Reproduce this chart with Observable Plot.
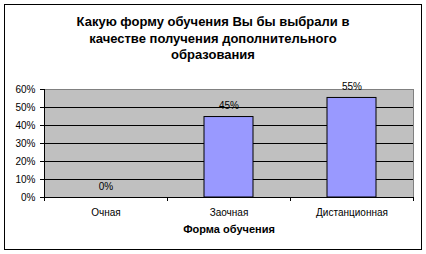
<!DOCTYPE html>
<html>
<head>
<meta charset="utf-8">
<script src="https://cdn.jsdelivr.net/npm/d3@7"></script>
<script src="https://cdn.jsdelivr.net/npm/@observablehq/plot@0.6"></script>
<style>
  body { margin: 0; background: #fff; font-family: "Liberation Sans", Arial, sans-serif; }
  #wrap { position: relative; width: 426px; height: 254px; overflow: hidden; }
  #border { position: absolute; left: 4px; top: 4px; width: 418px; height: 246px; box-sizing: border-box; border: 1px solid #000; }
  #title { position: absolute; left: 4px; top: 14px; width: 418px; text-align: center; font: bold 13px "Liberation Sans", Arial, sans-serif; line-height: 16.5px; color: #000; }
  #plot { position: absolute; left: 0; top: 0; }
</style>
</head>
<body>
<div id="wrap">
  <div id="border"></div>
  <div id="title">Какую форму обучения Вы бы выбрали в<br>качестве получения дополнительного<br>образования</div>
  <div id="plot"></div>
</div>
<script>
const categories = ["Очная", "Заочная", "Дистанционная"];
const values = [0, 0.447, 0.553];
const yTicks = [0, 0.1, 0.2, 0.3, 0.4, 0.5, 0.6];
const gridValues = [0.1, 0.2, 0.3, 0.4, 0.5];
const xTitle = "Форма обучения";

const data = categories.map((c, i) => ({category: c, value: values[i]}));

const W = 426, H = 254, mL = 44, mR = 13, mT = 89, mB = 57;
const step = (W - mL - mR) / categories.length;

const chart = Plot.plot({
  width: W,
  height: H,
  marginLeft: mL,
  marginRight: mR,
  marginTop: mT,
  marginBottom: mB,
  style: {fontFamily: "'Liberation Sans', Arial, sans-serif", fontSize: "10px", color: "#000", background: "transparent"},
  x: {domain: categories, paddingInner: 0.6, paddingOuter: 0.3, label: null},
  y: {domain: [0, 0.6], label: null},
  marks: [
    Plot.frame({fill: "#C0C0C0", stroke: null}),
    Plot.ruleY(gridValues, {stroke: "#000", strokeWidth: 1}),
    Plot.barY(data, {x: "category", y: "value", fill: "#9999FF", stroke: "#000", strokeWidth: 1}),
    Plot.frame({stroke: "#808080", strokeWidth: 1}),
    Plot.frame({anchor: "left", stroke: "#000"}),
    Plot.frame({anchor: "bottom", stroke: "#000"}),
    Plot.axisY(yTicks, {tickSize: 4, tickPadding: 5, tickFormat: d3.format(".0%"), fontSize: 10, stroke: "#000"}),
    Plot.axisX({tickSize: 0, tickPadding: 11, fontSize: 10}),
    Plot.tickX(categories, {x: d => d, dx: -step / 2, insetTop: H - mT - mB - 4, dy: 4, stroke: "#000"}),
    Plot.tickX(categories.slice(-1), {x: d => d, dx: step / 2, insetTop: H - mT - mB - 4, dy: 4, stroke: "#000"}),
    Plot.text(data, {x: "category", y: "value", text: d => d3.format(".0%")(d.value), dy: -11, fontSize: 10, fill: "#000"}),
    Plot.text([xTitle], {frameAnchor: "bottom", text: d => d, dy: 35, fontSize: 11, fontWeight: "bold", fill: "#000"})
  ]
});
document.getElementById("plot").appendChild(chart);
</script>
</body>
</html>
